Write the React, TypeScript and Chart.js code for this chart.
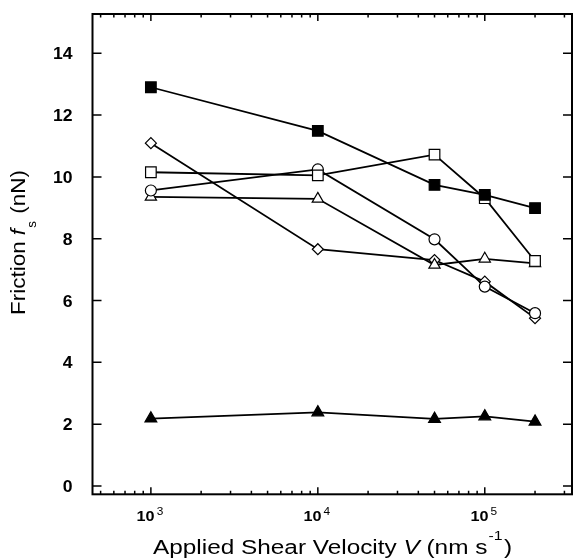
import React, { useEffect, useRef } from "react";
import { Chart, registerables } from "chart.js";

Chart.register(...registerables);

// ---- data ----
const velocities = [1000, 10000, 50000, 100000, 200000];
const filledSquare = [12.9, 11.49, 9.74, 9.42, 8.99];
const openSquare = [10.15, 10.05, 10.72, 9.31, 7.28];
const openCircle = [9.56, 10.24, 7.98, 6.45, 5.59];
const openDiamond = [11.09, 7.66, 7.31, 6.61, 5.43];
const openTriangle = [9.35, 9.29, 7.15, 7.35, 7.2];
const filledTriangle = [2.18, 2.38, 2.17, 2.25, 2.08];

const yTickValues = [0, 2, 4, 6, 8, 10, 12, 14];
const xMajorTicks = [1000, 10000, 100000];
const xMajorExponents = ["3", "4", "5"];
const xMinorTicks = [
  500, 600, 700, 800, 900,
  2000, 3000, 4000, 5000, 6000, 7000, 8000, 9000,
  20000, 30000, 40000, 50000, 60000, 70000, 80000, 90000,
  200000, 300000,
];

const FONT = '"Liberation Sans", Arial, Helvetica, sans-serif';

type Seg = { text: string; font: string; dy?: number; dx?: number; w?: number };

function drawRich(
  ctx: CanvasRenderingContext2D,
  segs: Seg[],
  x: number,
  y: number,
  align: "left" | "center" | "right",
  targetWidth?: number,
  stretch = 1
) {
  let w = 0;
  for (const s of segs) {
    ctx.font = s.font;
    s.w = ctx.measureText(s.text).width;
    w += s.w + (s.dx || 0);
  }
  const k = targetWidth ? targetWidth / w : stretch;
  ctx.save();
  ctx.translate(x, y);
  ctx.scale(k, 1);
  ctx.textAlign = "left";
  ctx.textBaseline = "alphabetic";
  ctx.fillStyle = "#000";
  let cx = align === "center" ? -w / 2 : align === "right" ? -w : 0;
  for (const s of segs) {
    ctx.font = s.font;
    cx += s.dx || 0;
    ctx.fillText(s.text, cx, s.dy || 0);
    cx += s.w || 0;
  }
  ctx.restore();
}

const framePlugin = {
  id: "framePlugin",
  afterDraw(chart: any) {
    const { ctx, chartArea } = chart;
    const { left, right, top, bottom } = chartArea;
    const xs = chart.scales.x;
    const ys = chart.scales.y;
    ctx.save();
    ctx.strokeStyle = "#000";
    // frame
    ctx.lineWidth = 2;
    ctx.strokeRect(left, top, right - left, bottom - top);
    // ticks
    ctx.lineWidth = 1.5;
    ctx.beginPath();
    for (const v of yTickValues) {
      const py = ys.getPixelForValue(v);
      ctx.moveTo(left, py);
      ctx.lineTo(left + 9, py);
      ctx.moveTo(right, py);
      ctx.lineTo(right - 9, py);
    }
    for (const v of xMajorTicks) {
      const px = xs.getPixelForValue(v);
      ctx.moveTo(px, bottom);
      ctx.lineTo(px, bottom - 7);
      ctx.moveTo(px, top);
      ctx.lineTo(px, top + 7);
    }
    for (const v of xMinorTicks) {
      const px = xs.getPixelForValue(v);
      ctx.moveTo(px, bottom);
      ctx.lineTo(px, bottom - 3.5);
      ctx.moveTo(px, top);
      ctx.lineTo(px, top + 3.5);
    }
    ctx.stroke();

    // y tick labels
    for (const v of yTickValues) {
      const py = ys.getPixelForValue(v);
      drawRich(ctx, [{ text: String(v), font: `bold 16px ${FONT}`, dy: 6 }], left - 20, py, "right", undefined, 1.1);
    }
    // x tick labels
    xMajorTicks.forEach((v, i) => {
      const px = xs.getPixelForValue(v);
      drawRich(
        ctx,
        [
          { text: "10", font: `bold 15px ${FONT}` },
          { text: xMajorExponents[i], font: `11px ${FONT}`, dy: -6, dx: 2 },
        ],
        px - 1,
        521,
        "center",
        undefined,
        1.08
      );
    });

    // x title
    drawRich(
      ctx,
      [
        { text: "Applied Shear Velocity ", font: `20px ${FONT}` },
        { text: "V", font: `italic 20px ${FONT}` },
        { text: " (nm s", font: `20px ${FONT}` },
        { text: "-1", font: `13px ${FONT}`, dy: -14, dx: 1 },
        { text: ")", font: `20px ${FONT}`, dx: 1 },
      ],
      (153 + 512) / 2,
      553.5,
      "center",
      359
    );

    // y title
    ctx.save();
    ctx.translate(25, 242.5);
    ctx.rotate(-Math.PI / 2);
    drawRich(
      ctx,
      [
        { text: "Friction ", font: `20px ${FONT}` },
        { text: "f", font: `italic 20px ${FONT}` },
        { text: "s", font: `12px ${FONT}`, dy: 11, dx: 1 },
        { text: " (nN)", font: `20px ${FONT}`, dx: 1 },
      ],
      0,
      0,
      "center",
      145
    );
    ctx.restore();
    ctx.restore();
  },
};

function makeDataset(values: number[], style: string, radius: number, filled: boolean) {
  return {
    data: velocities.map((x, i) => ({ x, y: values[i] })),
    borderColor: "#000",
    borderWidth: 1.8,
    backgroundColor: filled ? "#000" : "#fff",
    pointStyle: style,
    pointRadius: radius,
    pointBorderWidth: 1.2,
    pointBorderColor: "#000",
    pointBackgroundColor: filled ? "#000" : "#fff",
    tension: 0,
    fill: false,
    clip: false as any,
  };
}

export default function App() {
  const canvasRef = useRef<HTMLCanvasElement | null>(null);

  useEffect(() => {
    document.body.style.margin = "0";
    if (!canvasRef.current) return;
    const chart = new Chart(canvasRef.current, {
      type: "line",
      data: {
        datasets: [
          makeDataset(filledSquare, "rect", 7.5, true),
          makeDataset(openSquare, "rect", 7.5, false),
          makeDataset(openCircle, "circle", 5.5, false),
          makeDataset(openTriangle, "triangle", 6.5, false),
          makeDataset(openDiamond, "rectRot", 5.5, false),
          makeDataset(filledTriangle, "triangle", 6.8, true),
        ] as any,
      },
      options: {
        responsive: true,
        maintainAspectRatio: false,
        animation: false,
        events: [],
        layout: { autoPadding: false, padding: { left: 92.5, top: 14, right: 1, bottom: 65.7 } },
        plugins: { legend: { display: false }, tooltip: { enabled: false } },
        scales: {
          x: { type: "logarithmic", min: 447, max: 333000, display: false },
          y: { type: "linear", min: -0.27, max: 15.27, display: false },
        },
      } as any,
      plugins: [framePlugin],
    });
    return () => chart.destroy();
  }, []);

  return (
    <div
      style={{
        position: "absolute",
        left: 0,
        top: 0,
        width: "573px",
        height: "560px",
        background: "#fff",
        overflow: "hidden",
      }}
    >
      <canvas ref={canvasRef} style={{ display: "block" }} />
    </div>
  );
}
